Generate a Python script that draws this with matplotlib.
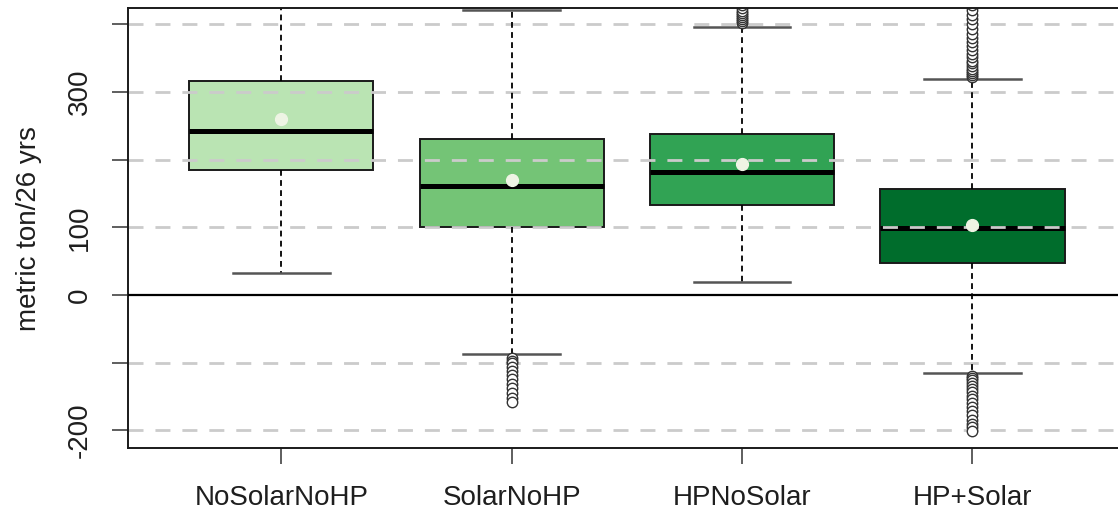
import matplotlib
matplotlib.use("Agg")
import matplotlib.pyplot as plt
import numpy as np

plt.rcParams['font.family'] = ['Liberation Sans', 'DejaVu Sans']

# ======= DATA ========
categories = ['NoSolarNoHP', 'SolarNoHP', 'HPNoSolar', 'HP+Solar']
q1 = [184.6, 100.4, 132.9, 47.0]
medians = [242.7, 161.0, 181.2, 98.5]
q3 = [316.5, 230.4, 237.9, 156.6]
whis_lo = [32.0, -87.1, 19.2, -114.7]
whis_hi = [470.0, 421.0, 396.0, 319.0]
means = [260.4, 169.9, 193.1, 103.4]
fliers = [
    [],
    [-93, -97, -101, -106, -112, -118, -124, -131, -138, -145, -152, -158],
    [402, 405, 408, 411, 414, 417, 420, 424, 428],
    [-119, -122, -126, -130, -134, -139, -144, -149, -154, -160, -166, -172,
     -178, -184, -190, -195, -201,
     322, 325, 328, 331, 334, 338, 342, 346, 351, 356, 362, 368, 374, 380,
     386, 393, 400, 407, 414, 421, 428, 436],
]
box_colors = ['#bae4b3', '#74c476', '#31a354', '#006d2c']
y_ticks = [400, 300, 200, 100, 0, -100, -200]
y_ticklabels = ['', '300', '', '100', '0', '', '-200']
# ======================

stats = []
for i, name in enumerate(categories):
    stats.append(dict(label=name, q1=q1[i], med=medians[i], q3=q3[i],
                      whislo=whis_lo[i], whishi=whis_hi[i],
                      mean=means[i], fliers=np.array(fliers[i])))

fig = plt.figure(figsize=(11.18, 5.13), dpi=100)
ax = fig.add_axes([0.1148, 0.1262, 0.8918, 0.8576])

positions = np.arange(1, len(categories) + 1)
bp = ax.bxp(stats, positions=positions, widths=0.8, capwidths=0.42,
            patch_artist=True, showmeans=True, zorder=1,
            boxprops=dict(edgecolor='#1a1a1a', linewidth=1.4),
            medianprops=dict(color='black', linewidth=3.6),
            whiskerprops=dict(color='black', linewidth=1.3, linestyle=(0, (3.2, 2.4))),
            capprops=dict(color='#555555', linewidth=1.8),
            meanprops=dict(marker='o', markerfacecolor='#eef4e4', markeredgecolor='#eef4e4',
                           markersize=8.5),
            flierprops=dict(marker='o', markerfacecolor='white', markeredgecolor='#333333',
                            markersize=7.5, markeredgewidth=1.0))

for patch, c in zip(bp['boxes'], box_colors):
    patch.set_facecolor(c)
for art in bp['whiskers'] + bp['caps'] + bp['fliers']:
    art.set_zorder(2.5)
for art in bp['means']:
    art.set_zorder(4)

# dashed reference lines over the boxes, solid line at zero
for y in y_ticks:
    if y == 0:
        ax.axhline(0, color='black', linewidth=1.6, zorder=3)
    else:
        ax.axhline(y, color='#cbcbcb', linewidth=2.0, linestyle=(0, (5.4, 4.3)), zorder=2)

ax.set_xlim(0.336, 4.664)
ax.set_ylim(-226.4, 423.5)

ax.set_yticks(y_ticks)
ax.set_yticklabels(y_ticklabels, rotation=90, va='center', fontsize=20)
ax.set_xticks(positions)
ax.set_xticklabels(categories, fontsize=20)
ax.tick_params(axis='y', length=11.5, width=1.1, color='#333333', pad=14, labelcolor='#1e1e1e')
ax.tick_params(axis='x', length=11.5, width=1.1, color='#333333', pad=15, labelcolor='#1e1e1e')

ax.set_ylabel('metric ton/26 yrs', fontsize=20, color='#1e1e1e')
ax.yaxis.set_label_coords(-0.087, 0.5)

for side in ['left', 'top', 'bottom']:
    ax.spines[side].set_linewidth(1.4)
    ax.spines[side].set_color('#1a1a1a')
ax.spines['right'].set_visible(False)

fig.savefig('out.png', dpi=100)
